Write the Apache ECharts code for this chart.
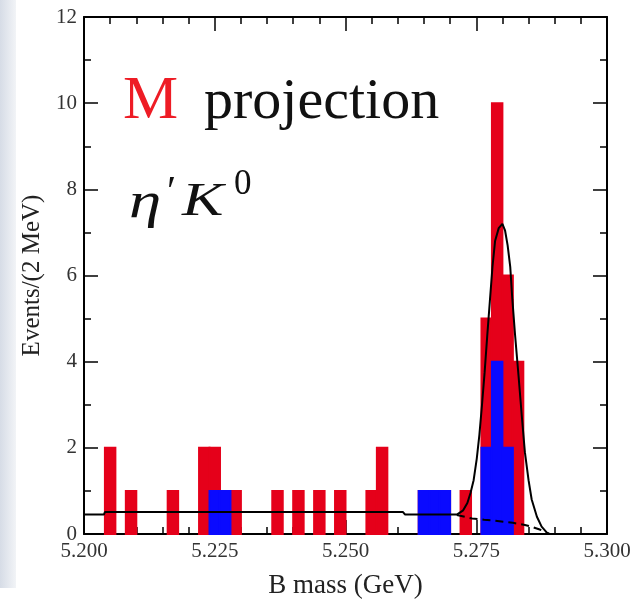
<!DOCTYPE html>
<html>
<head>
<meta charset="utf-8">
<script src="https://cdn.jsdelivr.net/npm/echarts@6/dist/echarts.min.js"></script>
<style>
  html, body { margin: 0; padding: 0; background: #ffffff; }
  #chart { width: 634px; height: 599px; }
</style>
</head>
<body>
<div id="chart"></div>
<script>
// Histogram binning (GeV)
const BIN_WIDTH = 0.002;

// All candidates: lower bin edge and events per 2 MeV bin
const allBinLow = [5.204, 5.208, 5.216, 5.222, 5.224, 5.226, 5.228, 5.236, 5.240, 5.244,
                   5.248, 5.254, 5.256, 5.264, 5.266, 5.268, 5.272, 5.276, 5.278, 5.280, 5.282];
const allCounts = [2, 1, 1, 2, 2, 1, 1, 1, 1, 1,
                   1, 1, 2, 1, 1, 1, 1, 5, 10, 6, 4];

// Signal-enriched subset
const subBinLow = [5.224, 5.226, 5.264, 5.266, 5.268, 5.276, 5.278, 5.280];
const subCounts = [1, 1, 1, 1, 1, 2, 4, 2];

// Total fit projection (events / 2 MeV)
const fitMass = [5.2000, 5.2038, 5.2040, 5.2610, 5.2614, 5.2713, 5.2725, 5.2733, 5.2739, 5.2745,
                 5.2751, 5.2756, 5.2761, 5.2766, 5.2771, 5.2776, 5.2781, 5.2786, 5.2793, 5.2800,
                 5.2805, 5.2810, 5.2815, 5.2819, 5.2824, 5.2831, 5.2837, 5.2843, 5.2850, 5.2856,
                 5.2866, 5.2875, 5.2885, 5.2890];
const fitValue = [0.45, 0.45, 0.51, 0.51, 0.45, 0.45, 0.55, 0.72, 0.95, 1.25,
                  1.75, 2.30, 3.00, 3.75, 4.60, 5.40, 6.20, 6.80, 7.10, 7.20,
                  7.05, 6.70, 6.20, 5.45, 4.65, 3.65, 2.75, 1.90, 1.25, 0.80,
                  0.40, 0.17, 0.03, 0.00];

// Background component of the fit
const bkgMass = [5.2713, 5.2742, 5.2765, 5.2785, 5.2820, 5.2843, 5.2855, 5.2870, 5.2880, 5.2889];
const bkgValue = [0.44, 0.36, 0.33, 0.31, 0.26, 0.21, 0.17, 0.11, 0.06, 0.00];

const RED = '#e5001a';
const BLUE = '#0a0aff';
const SERIF = "'Liberation Serif', 'Times New Roman', serif";

function zipPairs(xs, ys) { return xs.map((x, i) => [x, ys[i]]); }

function histItem(color) {
  return function (params, api) {
    const lo = api.value(0);
    const v = api.value(1);
    const p0 = api.coord([lo, 0]);
    const p1 = api.coord([lo + BIN_WIDTH, v]);
    return {
      type: 'rect',
      shape: { x: p0[0], y: p1[1], width: p1[0] - p0[0], height: p0[1] - p1[1] },
      style: { fill: color, stroke: color, lineWidth: 2 }
    };
  };
}

const frameLine = { show: true, onZero: false, lineStyle: { color: '#000', width: 2 } };
const majorTick = { show: true, inside: true, length: 14, lineStyle: { color: '#000', width: 1.5 } };
const minorTickX = { show: true, splitNumber: 5, length: 7, lineStyle: { color: '#000', width: 1.5 } };
const minorTickY = { show: true, splitNumber: 2, length: 7, lineStyle: { color: '#000', width: 1.5 } };

const chart = echarts.init(document.getElementById('chart'));
chart.setOption({
  animation: false,
  backgroundColor: '#ffffff',
  grid: { left: 84, right: 27, top: 17, bottom: 65, outerBoundsMode: 'none' },
  xAxis: [
    {
      type: 'value', position: 'bottom', min: 5.2, max: 5.3, interval: 0.025,
      axisLine: frameLine, axisTick: majorTick, minorTick: minorTickX,
      splitLine: { show: false }, minorSplitLine: { show: false },
      axisLabel: {
        formatter: v => v.toFixed(3), color: '#333', fontFamily: SERIF, fontSize: 21, margin: 7,
        showMinLabel: true, showMaxLabel: true
      },
      name: 'B mass (GeV)', nameLocation: 'middle', nameGap: 38,
      nameTextStyle: { fontFamily: SERIF, fontSize: 27, color: '#222' }
    },
    {
      type: 'value', position: 'top', min: 5.2, max: 5.3, interval: 0.025,
      axisLine: frameLine, axisTick: majorTick, minorTick: minorTickX,
      splitLine: { show: false }, axisLabel: { show: false }
    }
  ],
  yAxis: [
    {
      type: 'value', position: 'left', min: 0, max: 12, interval: 2,
      axisLine: frameLine, axisTick: majorTick, minorTick: minorTickY,
      splitLine: { show: false },
      axisLabel: { color: '#333', fontFamily: SERIF, fontSize: 21, margin: 7 },
      name: 'Events/(2 MeV)', nameLocation: 'middle', nameGap: 36,
      nameTextStyle: { fontFamily: SERIF, fontSize: 25, color: '#222' }
    },
    {
      type: 'value', position: 'right', min: 0, max: 12, interval: 2,
      axisLine: frameLine, axisTick: majorTick, minorTick: minorTickY,
      splitLine: { show: false }, axisLabel: { show: false }
    }
  ],
  series: [
    {
      type: 'custom', name: 'all', renderItem: histItem(RED),
      data: zipPairs(allBinLow, allCounts), encode: { x: 0, y: 1 }, z: 2
    },
    {
      type: 'custom', name: 'subset', renderItem: histItem(BLUE),
      data: zipPairs(subBinLow, subCounts), encode: { x: 0, y: 1 }, z: 3
    },
    {
      type: 'line', name: 'background', data: zipPairs(bkgMass, bkgValue),
      showSymbol: false, symbol: 'none', z: 4,
      lineStyle: { color: '#000', width: 2, type: [8, 5] }
    },
    {
      type: 'line', name: 'fit', data: zipPairs(fitMass, fitValue),
      showSymbol: false, symbol: 'none', z: 5,
      lineStyle: { color: '#000', width: 2 }
    }
  ],
  graphic: [
    {
      type: 'rect', left: 0, top: 0, z: -10, silent: true,
      shape: { width: 16, height: 588 },
      style: {
        fill: new echarts.graphic.LinearGradient(0, 0, 1, 0, [
          { offset: 0, color: '#d6dce6' }, { offset: 1, color: '#f2f4f7' }
        ])
      }
    },
    {
      type: 'text', x: 123, y: 102, z: 10,
      style: { text: 'M', font: '62px ' + SERIF, fill: '#ee1c25', verticalAlign: 'middle' }
    },
    {
      type: 'text', x: 204, y: 103, z: 10,
      style: { text: 'projection', font: '58px ' + SERIF, fill: '#111', verticalAlign: 'middle' }
    },
    {
      type: 'text', x: 129, y: 204, z: 10, scaleX: 1.3,
      style: { text: 'η', font: 'italic 50px ' + SERIF, fill: '#111', verticalAlign: 'middle' }
    },
    {
      type: 'text', x: 167, y: 194, z: 10,
      style: { text: '′', font: '42px ' + SERIF, fill: '#111', verticalAlign: 'middle' }
    },
    {
      type: 'text', x: 182, y: 203, z: 10, scaleX: 1.35,
      style: { text: 'K', font: 'italic 46px ' + SERIF, fill: '#111', verticalAlign: 'middle' }
    },
    {
      type: 'text', x: 234, y: 185, z: 10,
      style: { text: '0', font: '35px ' + SERIF, fill: '#111', verticalAlign: 'middle' }
    }
  ]
});
</script>
</body>
</html>
